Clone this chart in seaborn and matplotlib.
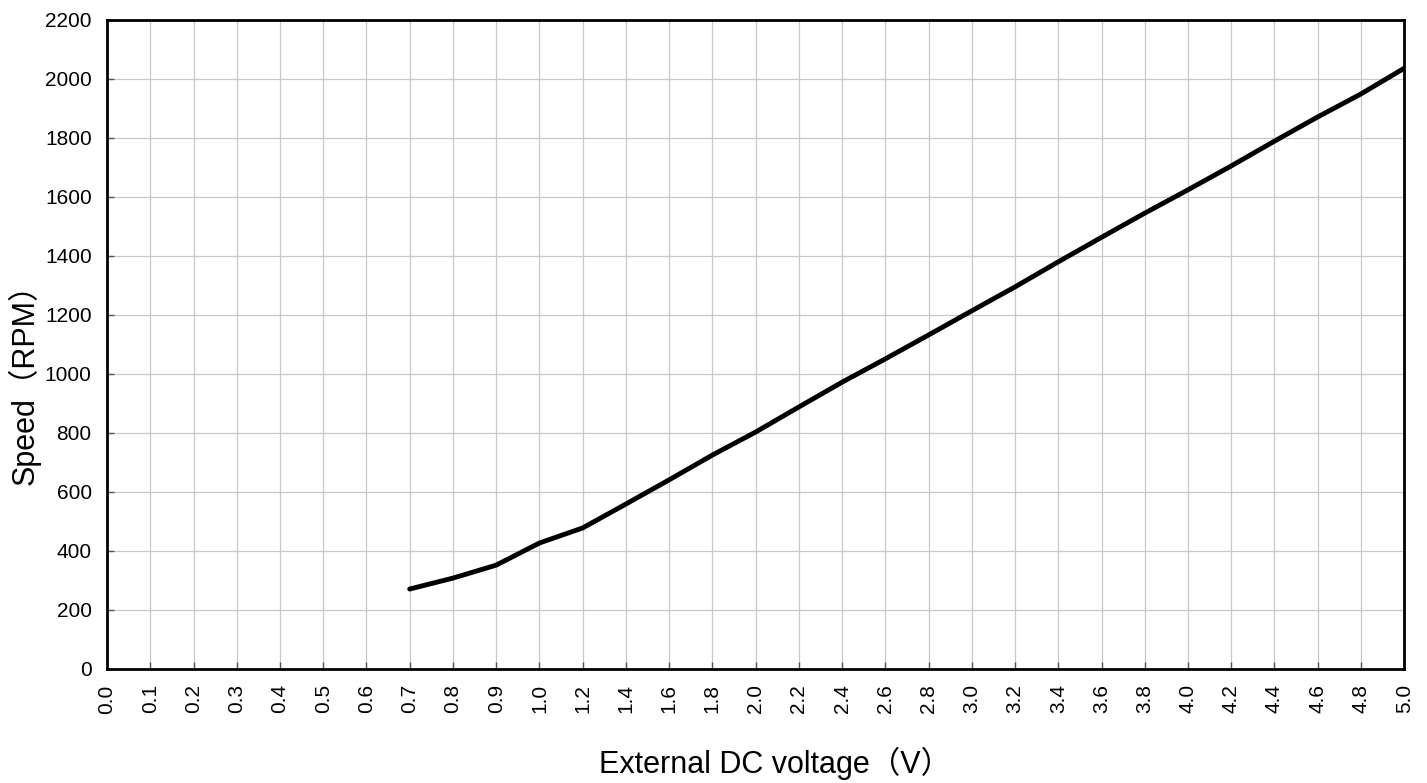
import pandas as pd
import matplotlib
matplotlib.use("Agg")
import matplotlib.pyplot as plt
import seaborn as sns

# Category labels on the x axis (evenly spaced, not a linear voltage scale)
tick_labels = ["0.0", "0.1", "0.2", "0.3", "0.4", "0.5", "0.6", "0.7", "0.8", "0.9",
               "1.0", "1.2", "1.4", "1.6", "1.8", "2.0", "2.2", "2.4", "2.6", "2.8",
               "3.0", "3.2", "3.4", "3.6", "3.8", "4.0", "4.2", "4.4", "4.6", "4.8", "5.0"]

# Measured points
voltage = ["0.7", "0.8", "0.9", "1.0", "1.2", "1.4", "1.6", "1.8", "2.0", "2.2",
           "2.4", "2.6", "2.8", "3.0", "3.2", "3.4", "3.6", "3.8", "4.0", "4.2",
           "4.4", "4.6", "4.8", "5.0"]
speed = [271, 308, 352, 427, 478, 559, 641, 725, 803, 888,
         972, 1051, 1132, 1214, 1295, 1380, 1463, 1545, 1624, 1705,
         1789, 1871, 1949, 2036]

y_ticks = list(range(0, 2201, 200))

sns.set_theme(style="white")
plt.rcParams["font.family"] = ["Liberation Sans", "Noto Sans CJK SC", "DejaVu Sans"]

df = pd.DataFrame({"voltage": voltage, "speed": speed})
df["pos"] = df["voltage"].map(tick_labels.index)

fig = plt.figure(figsize=(14.27, 7.83), dpi=100)
ax = fig.add_axes([0.075, 0.1456, 0.909, 0.829])

sns.lineplot(data=df, x="pos", y="speed", ax=ax, color="black", linewidth=3.5, zorder=3)

ax.set_xlim(0, len(tick_labels) - 1)
ax.set_ylim(0, 2200)
ax.set_xticks(range(len(tick_labels)))
ax.set_xticklabels(tick_labels, rotation=90, fontsize=15)
ax.set_yticks(y_ticks)
ax.set_yticklabels([str(v) for v in y_ticks], fontsize=15)

ax.grid(True, color="#c8c8c8", linewidth=0.9)
ax.set_axisbelow(True)
for s in ax.spines.values():
    s.set_color("black")
    s.set_linewidth(2)

ax.tick_params(direction="in", length=5, width=1, color="#555555",
               labelcolor="black", pad=11, bottom=True, left=True)

ax.set_xlabel("External DC voltage（V）", fontsize=22, color="black")
ax.set_ylabel("Speed（RPM）", fontsize=22, color="black")
ax.xaxis.set_label_coords(0.515, -0.145)
ax.yaxis.set_label_coords(-0.064, 0.45)
ax.xaxis.label.set_va("center")
ax.yaxis.label.set_va("center")

fig.savefig("out.png", dpi=100)
